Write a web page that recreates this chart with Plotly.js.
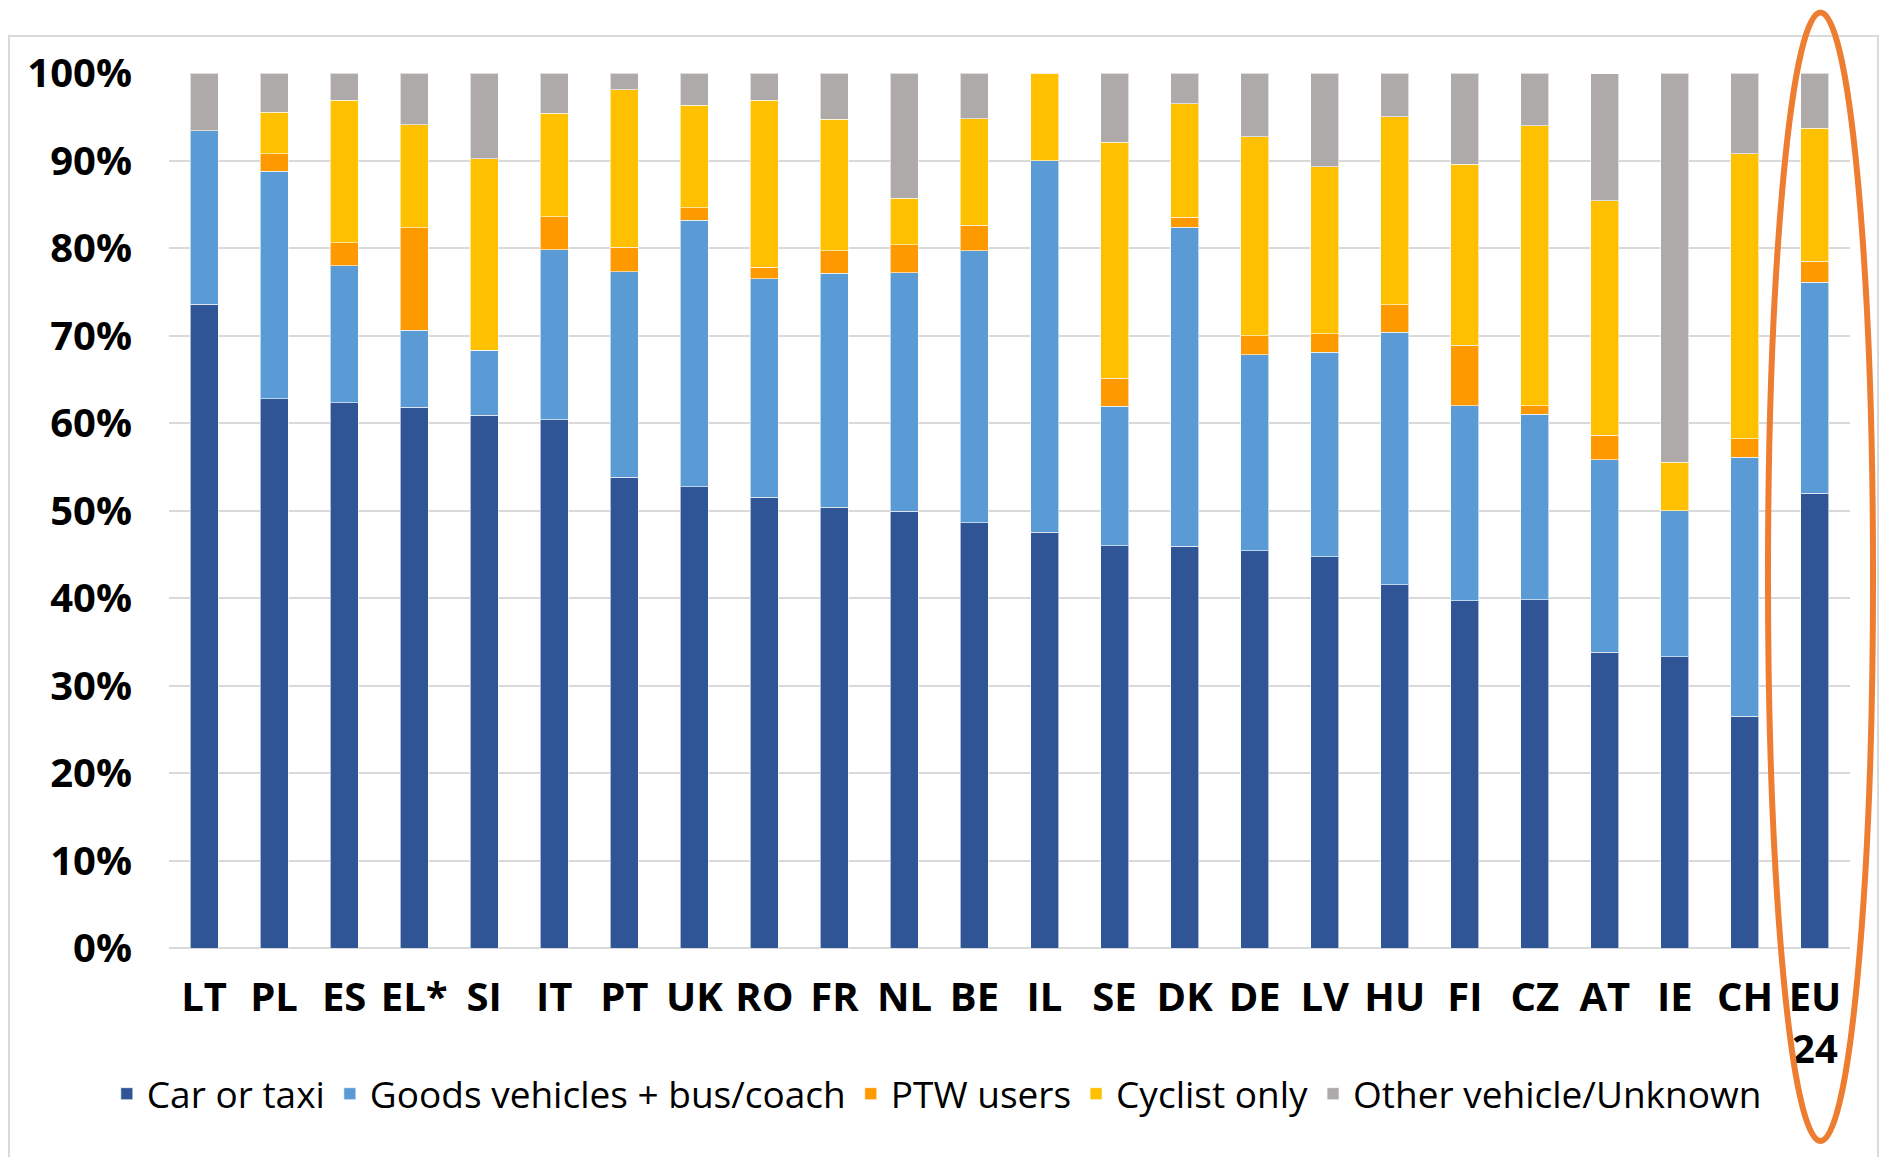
<!DOCTYPE html>
<html>
<head>
<meta charset="utf-8">
<script src="https://cdn.plot.ly/plotly-3.0.1.min.js"></script>
<style>html,body{margin:0;padding:0;background:#fff;}#chart{width:1879px;height:1157px;}</style>
</head>
<body>
<div id="chart"></div>
<script>
const categories = ['LT','PL','ES','EL*','SI','IT','PT','UK','RO','FR','NL','BE','IL','SE','DK','DE','LV','HU','FI','CZ','AT','IE','CH','EU<br>24'];
const carOrTaxi   = [73.6,62.8,62.3,61.8,60.9,60.4,53.8,52.7,51.5,50.4,49.9,48.6,47.5,46.0,45.9,45.4,44.7,41.5,39.7,39.8,33.8,33.3,26.5,52.0];
const goodsBus    = [19.8,26.0,15.7, 8.8, 7.4,19.4,23.5,30.5,25.0,26.7,27.3,31.1,42.5,15.9,36.5,22.4,23.4,28.9,22.3,21.2,22.0,16.7,29.6,24.1];
const ptwUsers    = [ 0.0, 2.0, 2.6,11.7, 0.0, 3.8, 2.8, 1.4, 1.3, 2.6, 3.2, 2.9, 0.0, 3.2, 1.1, 2.2, 2.1, 3.1, 6.9, 1.0, 2.8, 0.0, 2.1, 2.4];
const cyclistOnly = [ 0.0, 4.7,16.3,11.8,21.9,11.8,18.0,11.7,19.1,15.0, 5.3,12.2,10.0,27.0,13.0,22.7,19.1,21.5,20.7,32.0,26.8, 5.5,32.6,15.2];
const otherUnknown= [ 6.6, 4.5, 3.1, 5.9, 9.8, 4.6, 1.9, 3.7, 3.1, 5.3,14.3, 5.2, 0.0, 7.9, 3.5, 7.3,10.7, 5.0,10.4, 6.0,14.5,44.5, 9.2, 6.3];
const seriesNames = ['Car or taxi','Goods vehicles + bus/coach','PTW users','Cyclist only','Other vehicle/Unknown'];
const yTicks = [0,10,20,30,40,50,60,70,80,90,100];

const colors = ['#2F5597','#5B9BD5','#FF9900','#FFC000','#AEAAAA'];
const seriesData = [carOrTaxi, goodsBus, ptwUsers, cyclistOnly, otherUnknown];

const traces = seriesData.map((vals, i) => ({
  type: 'bar',
  name: seriesNames[i],
  x: categories,
  y: vals,
  marker: {color: colors[i], line: {color: 'rgba(255,255,255,0.6)', width: 1}},
  hoverinfo: 'x+y+name'
}));

const FONT = '"Open Sans", "Noto Sans", sans-serif';

const layout = {
  width: 1879,
  height: 1157,
  paper_bgcolor: '#ffffff',
  plot_bgcolor: '#ffffff',
  barmode: 'stack',
  bargap: 0.6,
  showlegend: true,
  margin: {l: 169, r: 29, t: 73, b: 209, pad: 0},
  font: {family: FONT, color: '#000000'},
  xaxis: {
    type: 'category',
    range: [-0.5, categories.length - 0.5],
    autorange: false,
    tickfont: {family: FONT, size: 40, color: '#000000', weight: 'bold'},
    ticks: '',
    showgrid: false,
    showline: false,
    zeroline: false,
    ticklabelstandoff: 22,
    tickangle: 0,
    automargin: false
  },
  yaxis: {
    range: [0, 100],
    autorange: false,
    tickvals: yTicks,
    ticktext: yTicks.map(v => v + '%'),
    tickfont: {family: FONT, size: 40, color: '#000000', weight: 'bold'},
    showgrid: true,
    gridcolor: '#D9D9D9',
    gridwidth: 2,
    zeroline: true,
    zerolinecolor: '#D9D9D9',
    zerolinewidth: 2,
    showline: false,
    ticks: '',
    ticklabelstandoff: 36,
    automargin: false
  },
  legend: {
    orientation: 'h',
    x: -0.037,
    xanchor: 'left',
    y: -0.167,
    yanchor: 'middle',
    traceorder: 'normal',
    font: {family: FONT, size: 37, color: '#000000'},
    bgcolor: 'rgba(0,0,0,0)'
  },
  shapes: [
    {type: 'rect', xref: 'paper', yref: 'paper', x0: -0.0952, x1: 1.0167, y0: -0.32, y1: 1.0423,
     line: {color: '#D9D9D9', width: 2}, fillcolor: 'rgba(0,0,0,0)', layer: 'below'},
    {type: 'circle', xref: 'paper', yref: 'paper', x0: 0.9512, x1: 1.0137, y0: -0.2206, y1: 1.069,
     line: {color: '#ED7D31', width: 6}, fillcolor: 'rgba(0,0,0,0)'}
  ]
};

Plotly.newPlot('chart', traces, layout, {displayModeBar: false, staticPlot: true});
</script>
</body>
</html>
